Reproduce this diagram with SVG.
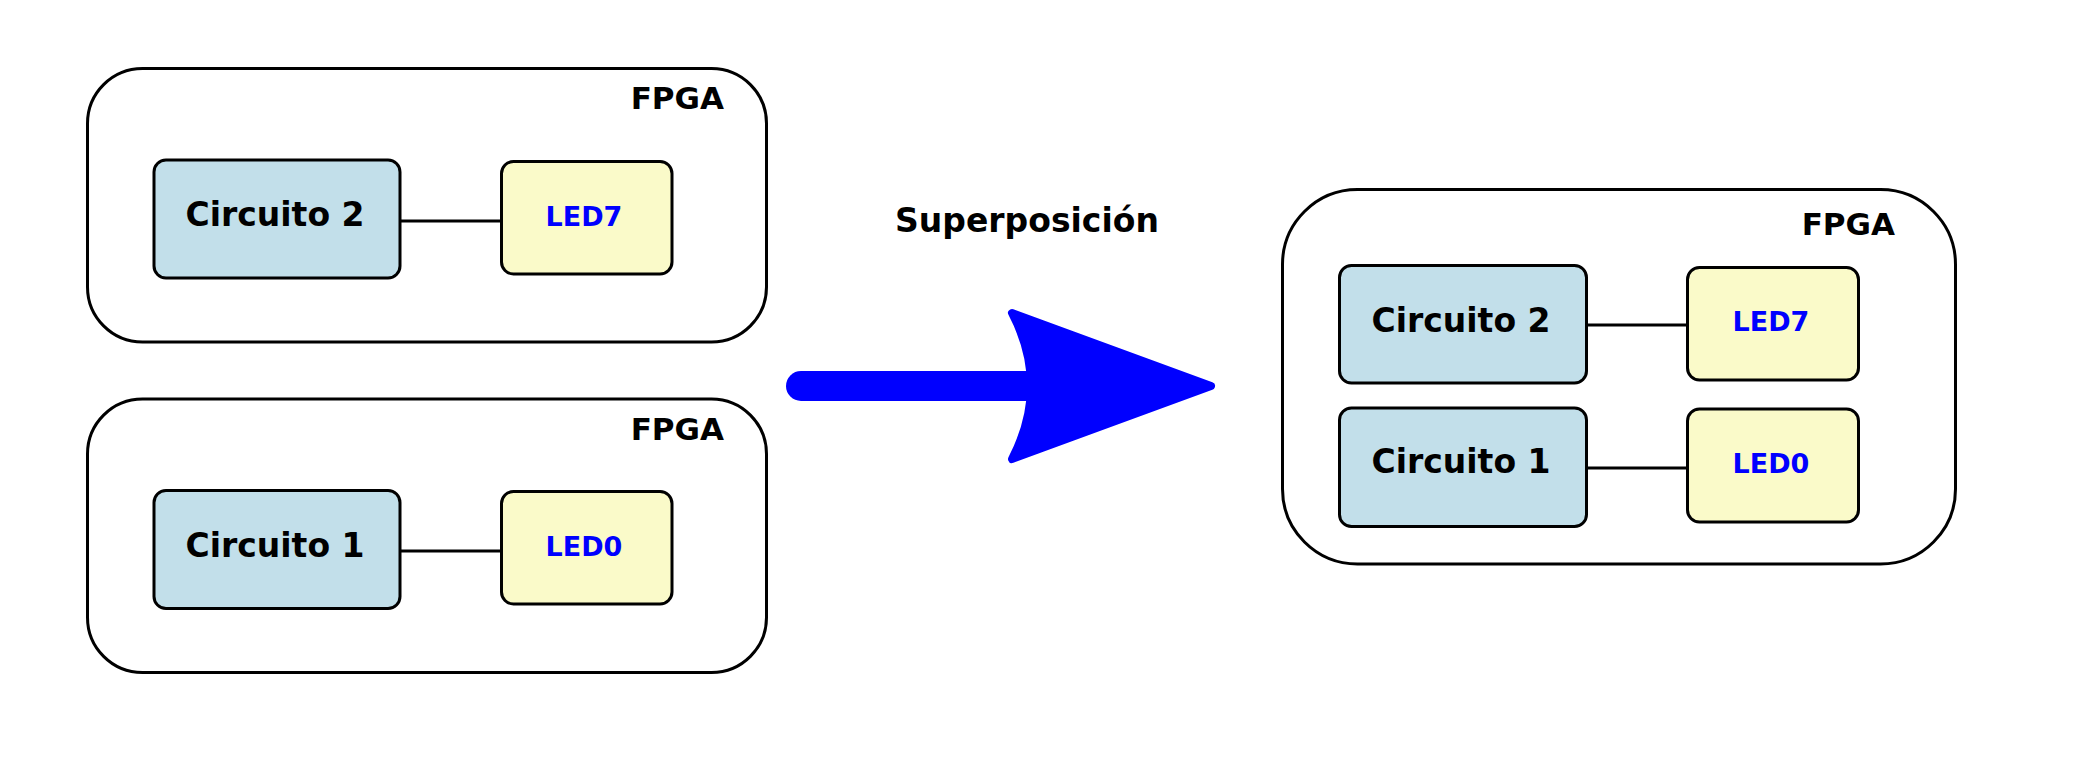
<svg xmlns="http://www.w3.org/2000/svg" width="2079" height="779" viewBox="0 0 2079 779">
<style>
.fpga{fill:#ffffff;stroke:#000;stroke-width:3}
.circ{fill:#c2dfea;stroke:#000;stroke-width:3}
.led{fill:#fafac9;stroke:#000;stroke-width:3}
.wire{stroke:#000;stroke-width:3;fill:none}
text{font-family:"DejaVu Sans","Liberation Sans",sans-serif;font-weight:bold}
.lbl{font-size:31px;fill:#000;text-anchor:end}
.ctext{font-size:33px;fill:#000;text-anchor:middle}
.ltext{font-size:27px;fill:#0000ff;text-anchor:middle}
.title{font-size:33px;fill:#000;text-anchor:middle}
</style>
<rect width="2079" height="779" fill="#ffffff"/>
<g id="fpga-top">
<rect class="fpga" x="87.5" y="68.5" width="679" height="273.5" rx="55" ry="55"/>
<text class="lbl" x="724" y="109">FPGA</text>
</g>
<g id="fpga-bottom">
<rect class="fpga" x="87.5" y="399" width="679" height="273.5" rx="55" ry="55"/>
<text class="lbl" x="724" y="440">FPGA</text>
</g>
<g id="fpga-right">
<rect class="fpga" x="1282.5" y="189.5" width="673" height="374.5" rx="75" ry="75"/>
<text class="lbl" x="1895" y="235">FPGA</text>
</g>
<g id="connectors">
<line class="wire" x1="400" y1="221" x2="501" y2="221"/>
<line class="wire" x1="400" y1="551" x2="501" y2="551"/>
<line class="wire" x1="1587" y1="325" x2="1687" y2="325"/>
<line class="wire" x1="1587" y1="468" x2="1687" y2="468"/>
</g>
<g id="circuito2-left">
<rect class="circ" x="154" y="160" width="246" height="118" rx="12" ry="12"/>
<text class="ctext" x="275" y="226">Circuito 2</text>
</g>
<g id="led7-left">
<rect class="led" x="501.5" y="161.5" width="170.5" height="112.5" rx="12" ry="12"/>
<text class="ltext" x="584" y="226">LED7</text>
</g>
<g id="circuito1-left">
<rect class="circ" x="154" y="490.5" width="246" height="118" rx="12" ry="12"/>
<text class="ctext" x="275" y="557">Circuito 1</text>
</g>
<g id="led0-left">
<rect class="led" x="501.5" y="491.5" width="170.5" height="112.5" rx="12" ry="12"/>
<text class="ltext" x="584" y="556">LED0</text>
</g>
<g id="circuito2-right">
<rect class="circ" x="1339.5" y="265.5" width="247" height="117.5" rx="12" ry="12"/>
<text class="ctext" x="1461" y="332">Circuito 2</text>
</g>
<g id="led7-right">
<rect class="led" x="1687.5" y="267.5" width="171" height="112.5" rx="12" ry="12"/>
<text class="ltext" x="1771" y="331">LED7</text>
</g>
<g id="circuito1-right">
<rect class="circ" x="1339.5" y="408" width="247" height="118.5" rx="12" ry="12"/>
<text class="ctext" x="1461" y="473">Circuito 1</text>
</g>
<g id="led0-right">
<rect class="led" x="1687.5" y="409" width="171" height="113" rx="12" ry="12"/>
<text class="ltext" x="1771" y="473">LED0</text>
</g>
<g id="arrow">
<text class="title" x="1027" y="232">Superposición</text>
<line x1="801" y1="386" x2="1030" y2="386" stroke="#0000ff" stroke-width="30" stroke-linecap="round"/>
<path d="M1012,313 L1211,386 L1012,459 Q1050,386 1012,313 Z" fill="#0000ff" stroke="#0000ff" stroke-width="8" stroke-linejoin="round"/>
</g>
</svg>
